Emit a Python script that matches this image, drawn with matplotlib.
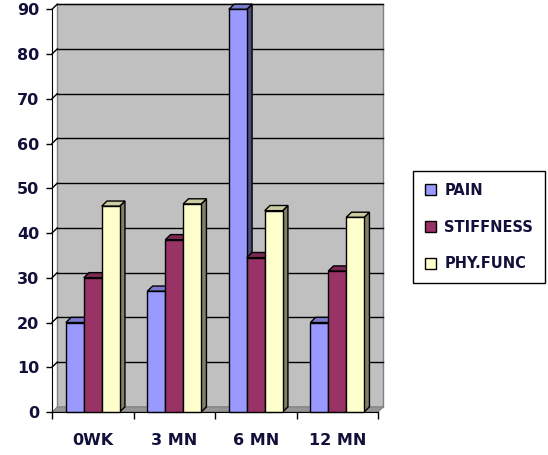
import numpy as np
import matplotlib.pyplot as plt
from matplotlib.patches import Polygon, Patch

categories = ["0WK", "3 MN", "6 MN", "12 MN"]
series_names = ["PAIN", "STIFFNESS", "PHY.FUNC"]
pain = [20, 27, 90, 20]
stiffness = [30, 38.5, 34.5, 31.5]
phy_func = [46, 46.5, 45, 43.5]

front_colors = ["#9999ff", "#993366", "#ffffcc"]
top_colors = ["#7a7acc", "#7a2952", "#cccca3"]
side_colors = ["#4d4d80", "#4d1a33", "#808066"]

text_col = "#10103a"
font = {"family": "DejaVu Sans", "weight": "bold"}

# 3D depth offsets in data units
dx, dy = 0.065, 1.15
width = 0.22

fig = plt.figure(figsize=(5.48, 4.55), dpi=100)
ax = fig.add_axes([52 / 548, 43 / 455, 326 / 548, 402.7 / 455])
ax.set_xlim(-0.5, 3.5)
ax.set_ylim(0, 90)
ax.patch.set_visible(False)

x0, x1 = -0.5, 3.5
# back wall
wall = Polygon([(x0 + dx, dy), (x1 + dx, dy), (x1 + dx, 90 + dy), (x0 + dx, 90 + dy)],
               closed=True, facecolor="#c0c0c0", edgecolor="#808080", lw=1,
               zorder=0, clip_on=False)
ax.add_patch(wall)
# floor
floor = Polygon([(x0, 0), (x1, 0), (x1 + dx, dy), (x0 + dx, dy)], closed=True,
                facecolor="#969696", edgecolor="#808080", lw=0.8, zorder=0.5,
                clip_on=False)
ax.add_patch(floor)

yticks = np.arange(0, 91, 10)
for v in yticks[1:]:
    ax.plot([x0 + dx, x1 + dx], [v + dy, v + dy], color="black", lw=1,
            zorder=0.6, clip_on=False)
    ax.plot([x0, x0 + dx], [v, v + dy], color="black", lw=1,
            zorder=0.6, clip_on=False)

x = np.arange(len(categories))
all_vals = [pain, stiffness, phy_func]
for i, cat_x in enumerate(x):
    for j, vals in enumerate(all_vals):
        left = cat_x - 1.5 * width + j * width
        h = vals[i]
        side = Polygon([(left + width, 0), (left + width + dx, dy),
                        (left + width + dx, h + dy), (left + width, h)],
                       closed=True, facecolor=side_colors[j], edgecolor="black",
                       lw=1, zorder=2 + i * 3 + j, clip_on=False)
        top = Polygon([(left, h), (left + width, h), (left + width + dx, h + dy),
                       (left + dx, h + dy)], closed=True,
                      facecolor=top_colors[j], edgecolor="black", lw=1,
                      zorder=2 + i * 3 + j, clip_on=False)
        ax.add_patch(side)
        ax.add_patch(top)
        ax.bar(left, h, width, align="edge", color=front_colors[j],
               edgecolor="black", lw=1, zorder=2.5 + i * 3 + j, clip_on=False)

for s in ["top", "right"]:
    ax.spines[s].set_visible(False)
ax.spines["left"].set_color("black")
ax.spines["bottom"].set_color("black")
ax.spines["left"].set_zorder(20)
ax.spines["bottom"].set_zorder(20)

ax.set_yticks(yticks)
ax.set_yticklabels([str(v) for v in yticks], fontsize=11.5, color=text_col, **font)
ax.tick_params(axis="y", length=4, width=1, pad=5)

ax.set_xticks(x)
ax.set_xticklabels(categories, fontsize=11.5, color=text_col, **font)
ax.set_xticks(np.arange(-0.5, 4, 1), minor=True)
ax.tick_params(axis="x", which="major", length=0, pad=15)
ax.tick_params(axis="x", which="minor", length=5, width=1)

handles = [Patch(facecolor=c, edgecolor="black", lw=1) for c in front_colors]
leg = fig.legend(handles, series_names, loc="center left",
                 bbox_to_anchor=(413 / 548, 1 - 227 / 455),
                 prop={"family": "DejaVu Sans", "weight": "bold", "size": 10.5},
                 frameon=True, fancybox=False, framealpha=1, edgecolor="black",
                 handlelength=0.75, handleheight=0.75, handletextpad=0.6,
                 labelspacing=1.5, borderpad=0.8, borderaxespad=0)
leg.get_frame().set_linewidth(1)
for t in leg.get_texts():
    t.set_color(text_col)

fig.savefig("out.png", dpi=100)
